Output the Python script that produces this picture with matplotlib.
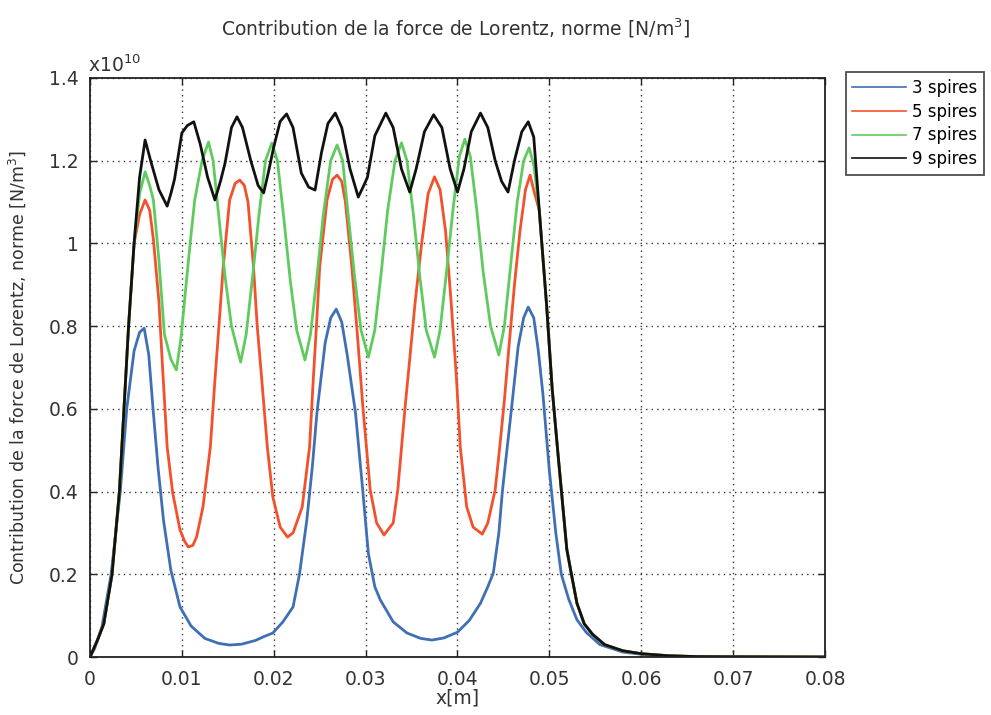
import numpy as np
import matplotlib
matplotlib.use("Agg")
import matplotlib.pyplot as plt

# values in units of 1e10 N/m^3, x in metres
rise_x = [0.0, 0.0008, 0.0015, 0.0024, 0.0032, 0.0037, 0.0042, 0.0048]
rise_y = [0.0, 0.04, 0.08, 0.20, 0.40, 0.60, 0.80, 1.00]

tail_x = [0.0489, 0.0497, 0.0503, 0.0509, 0.0514, 0.0519, 0.0524, 0.0530, 0.0538,
          0.0547, 0.0560, 0.0580, 0.0600, 0.0630, 0.0660, 0.0700, 0.0800]
tail_y = [1.08, 0.85, 0.65, 0.50, 0.38, 0.26, 0.20, 0.13, 0.08,
          0.055, 0.030, 0.015, 0.008, 0.003, 0.001, 0.0005, 0.0]

# 3 spires
x3 = [0.0, 0.0005, 0.0013, 0.0023, 0.0033, 0.0040, 0.0048, 0.0054, 0.0059, 0.0064,
      0.0069, 0.0074, 0.0080, 0.0088, 0.0098, 0.0110, 0.0125, 0.0140, 0.0152, 0.0165,
      0.0180, 0.0190, 0.0199, 0.0210, 0.0221, 0.0228, 0.0236, 0.0242, 0.0247, 0.0256,
      0.0262, 0.0268, 0.0274, 0.0280, 0.0289, 0.0297, 0.0303, 0.0310, 0.0316, 0.0330,
      0.0345, 0.0360, 0.0372, 0.0385, 0.0400, 0.0413, 0.0425, 0.0433, 0.0439, 0.0445,
      0.0449, 0.0459, 0.0466, 0.0472, 0.0477, 0.0483, 0.0488, 0.0493, 0.0500, 0.0507,
      0.0513, 0.0521, 0.0530, 0.0540, 0.0555, 0.0580, 0.0610, 0.0650, 0.0800]
y3 = [0.0, 0.02, 0.073, 0.20, 0.40, 0.60, 0.74, 0.785, 0.795, 0.73,
      0.59, 0.46, 0.331, 0.21, 0.121, 0.075, 0.045, 0.033, 0.029, 0.031,
      0.040, 0.050, 0.058, 0.085, 0.121, 0.20, 0.331, 0.46, 0.59, 0.76,
      0.82, 0.841, 0.81, 0.73, 0.59, 0.40, 0.25, 0.17, 0.138, 0.085,
      0.058, 0.045, 0.041, 0.046, 0.060, 0.089, 0.13, 0.17, 0.203, 0.30,
      0.404, 0.605, 0.75, 0.82, 0.846, 0.82, 0.74, 0.635, 0.45, 0.30,
      0.20, 0.14, 0.09, 0.06, 0.03, 0.012, 0.004, 0.001, 0.0]

# 5 spires
x5_mid = [0.0054, 0.0060, 0.0065, 0.0069, 0.0075, 0.0079, 0.0084, 0.0090, 0.0098, 0.0103,
          0.0107, 0.0112, 0.0116, 0.0123, 0.0131, 0.0136, 0.0141, 0.0145, 0.0152, 0.0158,
          0.0163, 0.0168, 0.0172, 0.0178, 0.0182, 0.0187, 0.0193, 0.0199, 0.0207, 0.0215,
          0.0221, 0.0231, 0.0239, 0.0243, 0.0247, 0.0250, 0.0258, 0.0264, 0.0269, 0.0274,
          0.0278, 0.0285, 0.0291, 0.0297, 0.0305, 0.0312, 0.0320, 0.0330, 0.0335, 0.0343,
          0.0348, 0.0354, 0.0361, 0.0368, 0.0375, 0.0381, 0.0387, 0.0393, 0.0399, 0.0403,
          0.0410, 0.0417, 0.0427, 0.0433, 0.0441, 0.0446, 0.0451, 0.0456, 0.0462, 0.0468,
          0.0474, 0.0479, 0.0484]
y5_mid = [1.07, 1.105, 1.08, 1.01, 0.86, 0.70, 0.508, 0.397, 0.307, 0.28,
          0.266, 0.27, 0.29, 0.363, 0.508, 0.67, 0.82, 0.943, 1.105, 1.145,
          1.153, 1.14, 1.10, 0.943, 0.80, 0.67, 0.508, 0.387, 0.314, 0.290,
          0.30, 0.363, 0.508, 0.67, 0.82, 0.943, 1.105, 1.155, 1.165, 1.15,
          1.10, 0.943, 0.78, 0.605, 0.404, 0.324, 0.295, 0.324, 0.404, 0.605,
          0.72, 0.86, 1.00, 1.12, 1.161, 1.13, 1.03, 0.86, 0.67, 0.508,
          0.363, 0.314, 0.297, 0.324, 0.404, 0.508, 0.62, 0.75, 0.90, 1.03,
          1.13, 1.165, 1.12]

# 7 spires
x7_mid = [0.0054, 0.0060, 0.0065, 0.0069, 0.0075, 0.0081, 0.0088, 0.0094, 0.0099, 0.0103,
          0.0109, 0.0114, 0.0122, 0.0129, 0.0134, 0.0140, 0.0147, 0.0154, 0.0164, 0.0170,
          0.0177, 0.0184, 0.0191, 0.0198, 0.0204, 0.0211, 0.0218, 0.0225, 0.0234, 0.0240,
          0.0247, 0.0254, 0.0262, 0.0269, 0.0275, 0.0281, 0.0288, 0.0295, 0.0303, 0.0310,
          0.0317, 0.0324, 0.0332, 0.0339, 0.0345, 0.0352, 0.0359, 0.0366, 0.0375, 0.0381,
          0.0388, 0.0395, 0.0402, 0.0408, 0.0414, 0.0421, 0.0428, 0.0436, 0.0445, 0.0451,
          0.0458, 0.0465, 0.0472, 0.0478, 0.0483]
y7_mid = [1.12, 1.173, 1.14, 1.105, 0.96, 0.78, 0.72, 0.694, 0.77, 0.863,
          1.00, 1.105, 1.20, 1.245, 1.20, 1.07, 0.92, 0.80, 0.713, 0.78,
          0.92, 1.07, 1.20, 1.243, 1.20, 1.06, 0.91, 0.79, 0.718, 0.78,
          0.92, 1.07, 1.20, 1.238, 1.20, 1.07, 0.92, 0.79, 0.725, 0.79,
          0.93, 1.08, 1.20, 1.243, 1.20, 1.07, 0.92, 0.79, 0.725, 0.79,
          0.93, 1.08, 1.21, 1.252, 1.21, 1.08, 0.93, 0.80, 0.73, 0.80,
          0.95, 1.10, 1.20, 1.231, 1.19]

# 9 spires
x9_mid = [0.0054, 0.0060, 0.0066, 0.0075, 0.0084, 0.0088, 0.0092, 0.0100, 0.0106, 0.0113,
          0.0120, 0.0128, 0.0136, 0.0142, 0.0147, 0.0154, 0.0160, 0.0166, 0.0175, 0.0183,
          0.0189, 0.0194, 0.0200, 0.0207, 0.0214, 0.0221, 0.0230, 0.0238, 0.0245, 0.0252,
          0.0259, 0.0267, 0.0274, 0.0283, 0.0292, 0.0298, 0.0302, 0.0310, 0.0322, 0.0330,
          0.0339, 0.0348, 0.0355, 0.0364, 0.0374, 0.0383, 0.0392, 0.0400, 0.0407, 0.0415,
          0.0425, 0.0433, 0.0441, 0.0448, 0.0455, 0.0462, 0.0470, 0.0477, 0.0483]
y9_mid = [1.16, 1.25, 1.20, 1.13, 1.09, 1.12, 1.155, 1.267, 1.285, 1.294,
          1.24, 1.16, 1.105, 1.15, 1.194, 1.28, 1.306, 1.28, 1.20, 1.14,
          1.122, 1.17, 1.233, 1.295, 1.313, 1.28, 1.17, 1.136, 1.129, 1.22,
          1.29, 1.315, 1.28, 1.18, 1.112, 1.14, 1.16, 1.26, 1.315, 1.28,
          1.18, 1.124, 1.18, 1.27, 1.311, 1.28, 1.18, 1.124, 1.18, 1.27,
          1.315, 1.28, 1.20, 1.15, 1.124, 1.20, 1.27, 1.294, 1.257]

labels = ["3 spires", "5 spires", "7 spires", "9 spires"]
colors = ["#3f6fb5", "#f2512c", "#5fcb5f", "#111111"]

x5 = rise_x + x5_mid + tail_x
y5 = rise_y + y5_mid + tail_y
x7 = rise_x + x7_mid + tail_x
y7 = rise_y + y7_mid + tail_y
x9 = rise_x + x9_mid + tail_x
y9 = rise_y + y9_mid + tail_y

series = [(x3, y3), (x5, y5), (x7, y7), (x9, y9)]

fig = plt.figure(figsize=(9.91, 7.15), dpi=100)
ax = fig.add_axes([0.0908, 0.0811, 0.7417, 0.8099])

for (xs, ys), lab, c in zip(series, labels, colors):
    ax.plot(xs, ys, color=c, lw=2.0, label=lab)

ax.set_xlim(0, 0.08)
ax.set_ylim(0, 1.4)
ax.set_xticks(np.arange(0, 0.081, 0.01))
ax.set_xticklabels(["0", "0.01", "0.02", "0.03", "0.04", "0.05", "0.06", "0.07", "0.08"])
ax.set_yticks(np.arange(0, 1.41, 0.2))
ax.set_yticklabels(["0", "0.2", "0.4", "0.6", "0.8", "1", "1.2", "1.4"])
ax.tick_params(direction="in", length=5, width=1, labelsize=13.5, color="#222222",
               labelcolor="#333333", top=True, right=True)
ax.tick_params(axis="x", pad=9)
ax.tick_params(axis="y", pad=8)
ax.grid(True, color="#333333", linestyle=(0, (1, 3)), linewidth=1.0)
for sp in ax.spines.values():
    sp.set_linewidth(1.3)
    sp.set_color("#222222")

ax.text(-0.003, 1.003, "x10$^{10}$", transform=ax.transAxes, ha="left", va="bottom",
        fontsize=13.5, color="#333333")
ax.set_xlabel("x[m]", fontsize=13.5, labelpad=0, color="#333333")
ax.set_ylabel("Contribution de la force de Lorentz, norme [N/m$^3$]", fontsize=12.5,
              color="#333333")
ax.yaxis.set_label_coords(-0.085, 0.5)
fig.text(0.46, 0.96, "Contribution de la force de Lorentz, norme [N/m$^3$]",
         ha="center", va="center", fontsize=13.5, color="#333333")

leg = ax.legend(loc="upper left", bbox_to_anchor=(1.028, 1.01), fontsize=12,
                frameon=True, fancybox=False, edgecolor="#222222", handlelength=3.2,
                borderpad=0.4, labelspacing=0.35, handletextpad=0.4, borderaxespad=0)
leg.get_frame().set_linewidth(1.3)
for h in leg.get_lines():
    h.set_linewidth(1.2)

fig.savefig("out.png", dpi=100)
